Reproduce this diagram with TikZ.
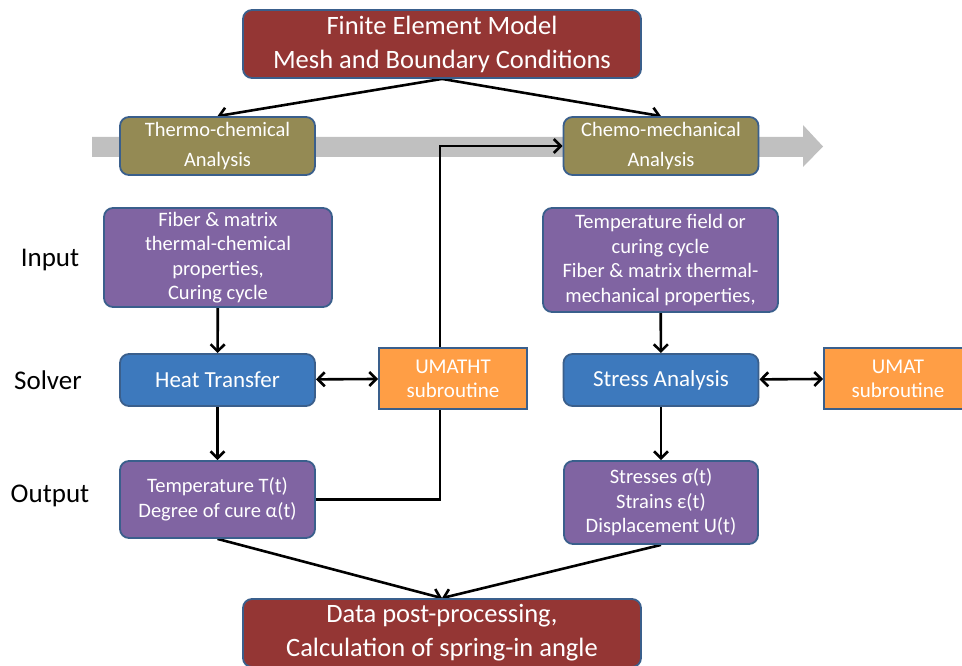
\documentclass[tikz,border=0pt]{standalone}
\usepackage{fontspec}
\setmainfont{Carlito}
\usetikzlibrary{arrows.meta,backgrounds}
\definecolor{boxline}{HTML}{3A5F8C}
\definecolor{fered}{HTML}{943634}
\definecolor{olive}{HTML}{948A54}
\definecolor{lilac}{HTML}{8064A2}
\definecolor{solverblue}{HTML}{3D79BD}
\definecolor{suborange}{HTML}{FF9E45}
\definecolor{flowgray}{HTML}{C0C0C0}

\begin{document}
\begin{tikzpicture}[x=1pt,y=-1pt,
   >={Straight Barb[length=7pt,width=14pt]},
   box/.style={draw=boxline,line width=1.8pt,rounded corners=9pt,text=white,
     align=center,inner sep=0pt},
   redbox/.style={box,fill=fered,minimum width=398pt,minimum height=68pt,
     font=\fontsize{26.5}{34}\selectfont},
   stagebox/.style={box,fill=olive,minimum width=195pt,minimum height=58pt,
     font=\fontsize{20.5}{30}\selectfont},
   databox/.style={box,fill=lilac,font=\fontsize{20.5}{24.5}\selectfont},
   solverbox/.style={box,fill=solverblue,minimum width=195pt,minimum height=52pt,
     font=\fontsize{23}{24}\selectfont},
   subbox/.style={box,rounded corners=0pt,fill=suborange,minimum width=148pt,
     minimum height=61pt,font=\fontsize{21}{24}\selectfont},
   rowlabel/.style={font=\fontsize{27}{30}\selectfont},
   link/.style={->,line width=2.6pt}]
   \useasboundingbox (0,0) rectangle (962,666);
   % analysis stages and boxes
   \node[redbox] (fem) at (442,44) {Finite Element Model\\Mesh and Boundary Conditions};
   \node[stagebox] (thermo) at (217.5,146) {Thermo-chemical\\Analysis};
   \node[stagebox] (chemo) at (661,146) {Chemo-mechanical\\Analysis};
   \node[databox,minimum width=228pt,minimum height=99pt] (inL) at (218,257.5)
     {Fiber \& matrix\\thermal-chemical\\properties,\\Curing cycle};
   \node[databox,minimum width=235pt,minimum height=104pt] (inR) at (660.5,260)
     {Temperature field or\\curing cycle\\Fiber \& matrix thermal-\\mechanical properties,};
   \node[solverbox] (heat) at (217.5,380) {Heat Transfer};
   \node[solverbox] (stress) at (661,380) {Stress Analysis};
   \node[subbox] (umatht) at (453,378.5) {UMATHT\\subroutine};
   \node[subbox] (umat) at (898,378.5) {UMAT\\subroutine};
   \node[databox,minimum width=195pt,minimum height=77pt] (outL) at (217.5,499.5)
     {Temperature T(t)\\Degree of cure α(t)};
   \node[databox,minimum width=194pt,minimum height=83pt] (outR) at (661,502.5)
     {Stresses σ(t)\\Strains ε(t)\\Displacement U(t)};
   \node[redbox] (post) at (442,633) {Data post-processing,\\Calculation of spring-in angle};
   % row labels
   \node[rowlabel] (lin) at (50,260) {Input};
   \node[rowlabel] (lsolv) at (48,380) {Solver};
   \node[rowlabel] (lout) at (50,496) {Output};
   \coordinate (bend) at (440,0);
   \begin{scope}[on background layer]
    \fill[flowgray] (92,137) -- (803,137) -- (803,125) -- (823,146.5)
      -- (803,167) -- (803,157) -- (92,157) -- cycle;
    \draw[link] (fem.south) -- (thermo.north);
    \draw[link] (fem.south) -- (chemo.north);
    \draw[link] (inL) -- (heat);
    \draw[link] (inR) -- (stress);
    \draw[link] (heat) -- (outL);
    \draw[link] (stress) -- (outR);
    \draw[link,<->] (heat) -- (umatht);
    \draw[link,<->] (stress) -- (umat);
    \draw[link] (outL.east) -| (bend |- chemo.west) -- (chemo.west);
    \draw[link] (outL.south) -- (post.north);
    \draw[link] (outR.south) -- (post.north);
   \end{scope}
\end{tikzpicture}
\end{document}
